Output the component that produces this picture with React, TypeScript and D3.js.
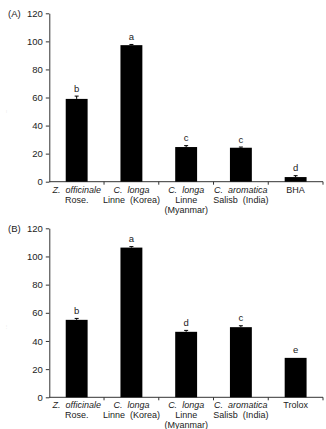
import * as d3 from 'd3'
import { useEffect, useRef } from 'react'

// category labels: [italic part, rest of line 1, line 2, line 3]
const categoriesA = [
  ['Z.  officinale', '', 'Rose.', ''],
  ['C.  longa', '', 'Linne  (Korea)', ''],
  ['C.  longa', '', 'Linne', '(Myanmar)'],
  ['C.  aromatica', '', 'Salisb  (India)', ''],
  ['', 'BHA', '', '']
]
const categoriesB = [
  ['Z.  officinale', '', 'Rose.', ''],
  ['C.  longa', '', 'Linne  (Korea)', ''],
  ['C.  longa', '', 'Linne', '(Myanmar)'],
  ['C.  aromatica', '', 'Salisb  (India)', ''],
  ['', 'Trolox', '', '']
]

const valuesA = [59, 97.3, 24.7, 24.2, 3.3]
const errorsA = [2, 0.5, 1, 0.5, 1]
const lettersA = ['b', 'a', 'c', 'c', 'd']

const valuesB = [55, 106.3, 46.5, 49.8, 28]
const errorsB = [1, 0.7, 1, 1, 0]
const lettersB = ['b', 'a', 'd', 'c', 'e']

const yTicks = [0, 20, 40, 60, 80, 100, 120]

const W = 326
const H = 429
const font = '"Liberation Sans", Arial, sans-serif'

interface Panel {
  tag: string
  top: number
  bottom: number
  cats: string[][]
  values: number[]
  errors: number[]
  letters: string[]
}

const panels: Panel[] = [
  { tag: '(A)', top: 13.3, bottom: 181.7, cats: categoriesA, values: valuesA, errors: errorsA, letters: lettersA },
  { tag: '(B)', top: 228.3, bottom: 397.3, cats: categoriesB, values: valuesB, errors: errorsB, letters: lettersB }
]

const App = () => {
  const ref = useRef<SVGSVGElement>(null)

  useEffect(() => {
    if (!ref.current) return
    const svg = d3.select(ref.current)
    svg.selectAll('*').remove()

    const left = 49.3
    const right = 323

    panels.forEach(p => {
      const g = svg.append('g')
      const idx = d3.range(p.values.length).map(String)

      const x = d3.scaleBand()
        .domain(idx)
        .range([left, right])
        .padding(0)

      const y = d3.scaleLinear()
        .domain([0, 120])
        .range([p.bottom, p.top])

      const barW = x.bandwidth() * 0.4
      const cx = (i: number) => x(String(i))! + x.bandwidth() / 2

      // y axis
      const yAxis = g.append('g')
        .attr('transform', `translate(${left},0)`)
        .call(d3.axisLeft(y).tickValues(yTicks).tickSize(3.5).tickPadding(3).tickSizeOuter(0))
      yAxis.select('.domain').attr('stroke', '#333').attr('stroke-width', 1)
      yAxis.selectAll('line').attr('stroke', '#333')
      yAxis.selectAll('text')
        .style('font-family', font)
        .style('font-size', '9.5px')
        .attr('fill', '#222')

      // x axis with ticks at category boundaries
      g.append('line')
        .attr('x1', left).attr('x2', right)
        .attr('y1', p.bottom).attr('y2', p.bottom)
        .attr('stroke', '#333')
      g.selectAll('.xtick')
        .data(d3.range(1, p.values.length + 1))
        .enter()
        .append('line')
        .attr('x1', i => left + x.step() * i)
        .attr('x2', i => left + x.step() * i)
        .attr('y1', p.bottom)
        .attr('y2', p.bottom + 3)
        .attr('stroke', '#333')

      // panel tag
      g.append('text')
        .attr('x', 8)
        .attr('y', p.top + 3.5)
        .style('font-family', font)
        .style('font-size', '9.5px')
        .attr('fill', '#222')
        .text(p.tag)

      // faint axis title remnant
      g.append('text')
        .attr('transform', `translate(8,${(p.top + p.bottom) / 2 + 14}) rotate(-90)`)
        .attr('text-anchor', 'middle')
        .style('font-family', font)
        .style('font-size', '4px')
        .attr('fill', '#999')
        .text('···')

      // bars
      g.selectAll('.bar')
        .data(p.values)
        .enter()
        .append('rect')
        .attr('x', (_, i) => cx(i) - barW / 2)
        .attr('y', d => y(d))
        .attr('width', barW)
        .attr('height', d => p.bottom - y(d))
        .attr('fill', '#000')

      // error bars
      p.values.forEach((v, i) => {
        const e = p.errors[i]
        if (e <= 0) return
        g.append('line')
          .attr('x1', cx(i)).attr('x2', cx(i))
          .attr('y1', y(v)).attr('y2', y(v + e))
          .attr('stroke', '#000')
        g.append('line')
          .attr('x1', cx(i) - 2).attr('x2', cx(i) + 2)
          .attr('y1', y(v + e)).attr('y2', y(v + e))
          .attr('stroke', '#000')
      })

      // significance letters
      g.selectAll('.letter')
        .data(p.letters)
        .enter()
        .append('text')
        .attr('x', (_, i) => cx(i))
        .attr('y', (_, i) => y(p.values[i] + p.errors[i]) - 4.5)
        .attr('text-anchor', 'middle')
        .style('font-family', font)
        .style('font-size', '9.5px')
        .attr('fill', '#222')
        .text(d => d)

      // category labels
      p.cats.forEach((c, i) => {
        const lines = [p.bottom + 11, p.bottom + 21, p.bottom + 31]
        const t1 = g.append('text')
          .attr('x', cx(i))
          .attr('y', lines[0])
          .attr('text-anchor', 'middle')
          .attr('xml:space', 'preserve')
          .style('white-space', 'pre')
          .style('font-family', font)
          .style('font-size', '9px')
          .attr('fill', '#222')
        if (c[0]) t1.append('tspan').style('font-style', 'italic').text(c[0])
        if (c[1]) t1.append('tspan').text(c[1])
        ;[c[2], c[3]].forEach((s, k) => {
          if (!s) return
          g.append('text')
            .attr('x', cx(i))
            .attr('y', lines[k + 1])
            .attr('text-anchor', 'middle')
            .attr('xml:space', 'preserve')
            .style('white-space', 'pre')
            .style('font-family', font)
            .style('font-size', '9px')
            .attr('fill', '#222')
            .text(s)
        })
      })
    })
  }, [])

  return (
    <svg
      ref={ref}
      width={W}
      height={H}
      style={{ position: 'absolute', left: 0, top: 0, background: '#fff' }}
    />
  )
}

export default App
